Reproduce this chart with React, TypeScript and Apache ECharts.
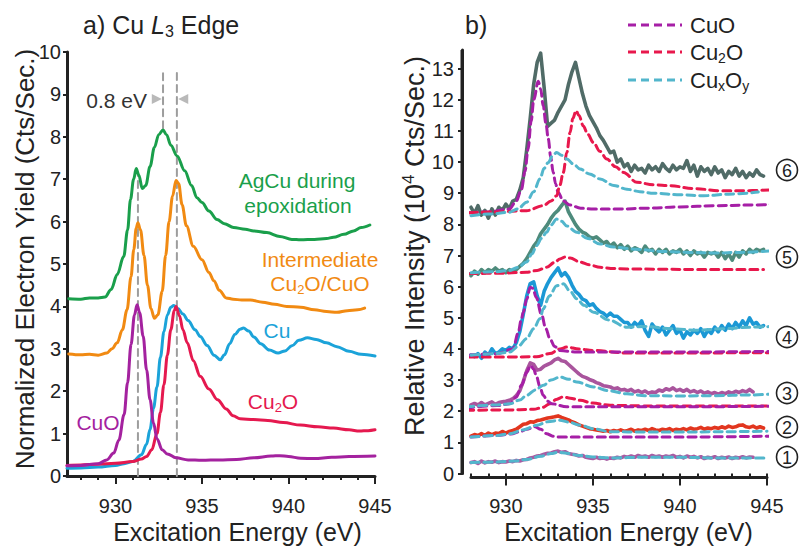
import React, { useEffect, useRef } from "react";
import * as echarts from "echarts";

const F = "'Liberation Sans', Arial, Helvetica, sans-serif";

// ---------- Panel a: Cu L3 edge reference spectra ----------
const A_CUO = [[927.2,0.24],[928,0.25],[929,0.29],[929.5,0.38],[929.9,0.54],[930.2,0.85],[930.5,1.45],[930.7,2.2],[930.9,3.1],[931.1,3.8],[931.25,4.04],[931.4,3.85],[931.6,3.3],[931.8,2.5],[932.0,1.8],[932.2,1.25],[932.4,0.88],[932.7,0.62],[933.0,0.52],[933.5,0.43],[934.2,0.38],[935,0.37],[936,0.38],[937,0.39],[938,0.43],[939,0.47],[939.5,0.48],[940,0.46],[940.7,0.42],[941.5,0.41],[942.5,0.44],[943.5,0.46],[945,0.47]];
const A_CU = [[927.2,0.18],[928,0.19],[929,0.21],[930,0.25],[930.5,0.29],[931,0.34],[931.5,0.5],[931.8,0.75],[932.0,1.1],[932.2,1.6],[932.4,2.1],[932.6,2.8],[932.8,3.4],[933.0,3.8],[933.2,3.98],[933.37,4.02],[933.6,3.95],[933.9,3.82],[934.2,3.67],[934.6,3.45],[934.9,3.29],[935.3,3.08],[935.7,2.85],[936.06,2.74],[936.3,2.86],[936.6,3.12],[936.9,3.34],[937.2,3.46],[937.4,3.49],[937.7,3.42],[938.0,3.28],[938.4,3.12],[938.9,2.97],[939.4,2.9],[939.8,2.95],[940.2,3.07],[940.6,3.2],[941.1,3.26],[941.6,3.22],[942.2,3.14],[942.8,3.05],[943.5,2.94],[944.2,2.87],[945,2.83]];
const A_CU2O = [[927.2,0.25],[928,0.26],[929,0.28],[930,0.3],[931,0.34],[931.5,0.4],[931.8,0.46],[932.1,0.62],[932.4,1.0],[932.6,1.5],[932.8,2.15],[933.0,2.85],[933.2,3.45],[933.4,3.9],[933.5,4.0],[933.7,3.78],[933.9,3.45],[934.15,3.14],[934.5,2.72],[934.9,2.35],[935.4,2.05],[935.9,1.8],[936.4,1.58],[936.8,1.42],[937.2,1.35],[938,1.33],[938.8,1.31],[939.7,1.26],[940.7,1.2],[941.7,1.16],[942.6,1.13],[943.5,1.09],[944.1,1.06],[944.6,1.07],[945,1.09]];
const A_MIX = [[927.3,2.88],[928,2.86],[928.5,2.87],[929,2.85],[929.5,2.9],[929.8,3.0],[930.1,3.14],[930.4,3.45],[930.67,3.92],[930.9,4.7],[931.06,5.34],[931.2,5.85],[931.3,5.97],[931.45,5.8],[931.65,5.2],[931.85,4.5],[932.05,3.95],[932.25,3.72],[932.45,3.8],[932.7,4.35],[932.9,5.2],[933.1,6.0],[933.3,6.6],[933.5,6.97],[933.65,6.9],[933.85,6.4],[934.1,5.9],[934.5,5.42],[935.0,5.1],[935.4,4.8],[935.7,4.6],[936.0,4.38],[936.4,4.2],[936.8,4.17],[937.3,4.15],[937.8,4.15],[938.5,4.1],[939.2,4.05],[939.9,4.0],[940.7,3.98],[941.5,3.92],[942.2,3.88],[942.8,3.86],[943.4,3.9],[944.0,3.92],[944.4,3.96]];
const A_AGCU = [[927.3,4.18],[928,4.17],[928.5,4.2],[929,4.2],[929.4,4.22],[929.75,4.4],[930.1,4.75],[930.48,5.18],[930.7,5.8],[930.87,6.52],[931.05,7.0],[931.2,7.25],[931.35,7.1],[931.55,6.78],[931.75,6.85],[932.0,7.3],[932.25,7.75],[932.5,8.05],[932.75,8.16],[932.95,8.05],[933.2,7.8],[933.56,7.55],[934.0,7.2],[934.4,6.85],[934.71,6.56],[935.0,6.45],[935.4,6.25],[935.87,6.05],[936.3,5.95],[936.83,5.86],[937.5,5.82],[938.0,5.78],[938.75,5.74],[939.5,5.65],[940.2,5.58],[940.7,5.57],[941.5,5.58],[942.2,5.6],[942.6,5.63],[943.2,5.7],[943.76,5.78],[944.2,5.86],[944.7,5.92]];
// gray guide lines (energy, from, to) and arrow marks (energy, level, rotation)
const GUIDES = [[931.3, 0, 7.1], [932.75, 8.2, 9.6], [933.55, 0, 9.6]];
const ARROWS = [[932.39, 8.89, -90], [933.92, 8.89, 90]];
const A_X_LABELS = [930, 935, 940, 945];
const A_X_MINOR = [928,929,930,931,932,933,934,935,936,937,938,939,940,941,942,943,944,945];
const A_Y_TICKS = [0,1,2,3,4,5,6,7,8,9,10];

// ---------- Panel b: measured spectra (1-6) and fits ----------
const E_B = [928.0,928.2,928.4,928.6,928.8,929.0,929.2,929.4,929.6,929.8,930.0,930.2,930.4,930.6,930.8,931.0,931.2,931.4,931.6,931.8,932.0,932.2,932.4,932.6,932.8,933.0,933.2,933.4,933.6,933.8,934.0,934.2,934.4,934.6,934.8,935.0,935.2,935.4,935.6,935.8,936.0,936.2,936.4,936.6,936.8,937.0,937.2,937.4,937.6,937.8,938.0,938.2,938.4,938.6,938.8,939.0,939.2,939.4,939.6,939.8,940.0,940.2,940.4,940.6,940.8,941.0,941.2,941.4,941.6,941.8,942.0,942.2,942.4,942.6,942.8,943.0,943.2,943.4,943.6,943.8,944.0,944.2,944.4,944.6,944.8];
const T6 = [8.55,8.35,8.6,8.3,8.45,8.2,8.5,8.3,8.55,8.45,8.65,8.5,8.75,8.8,9.1,9.5,10.4,11.4,12.5,13.2,13.5,12.4,11.15,11.25,11.35,11.6,11.8,12.0,12.5,12.9,13.2,12.7,12.2,11.8,11.5,11.3,11.1,10.85,10.7,10.5,10.3,10.35,10.0,10.1,9.85,9.95,9.7,9.9,9.75,9.8,9.65,9.9,9.75,9.85,9.7,9.95,9.8,9.7,9.9,9.75,9.85,9.8,10.05,9.7,9.9,9.55,9.85,9.7,9.8,9.6,9.85,9.65,9.75,9.5,9.7,9.6,9.8,9.55,9.7,9.5,9.65,9.55,9.75,9.6,9.55];
const T5 = [6.35,6.5,6.4,6.55,6.45,6.55,6.5,6.6,6.5,6.55,6.45,6.55,6.5,6.55,6.65,6.75,6.9,7.1,7.3,7.45,7.7,7.85,8.0,8.2,8.35,8.45,8.6,8.75,8.4,8.2,8.0,7.85,7.75,7.7,7.6,7.55,7.6,7.5,7.4,7.45,7.3,7.4,7.25,7.35,7.2,7.3,7.15,7.25,7.2,7.1,7.3,7.15,7.2,7.05,7.2,7.1,7.2,7.05,7.15,7.1,7.2,7.05,7.15,7.0,7.15,7.05,7.1,6.95,7.1,7.05,7.1,6.95,7.1,6.9,7.05,6.85,7.1,6.95,7.15,7.05,7.2,7.1,7.2,7.15,7.2];
const T4 = [3.8,3.75,3.85,3.7,3.9,3.8,4.0,3.85,3.9,4.0,3.95,4.05,4.0,4.2,4.55,5.1,5.7,6.1,6.15,5.7,5.4,5.85,6.1,6.3,6.45,6.6,6.35,6.45,6.3,6.05,5.85,5.75,5.6,5.55,5.4,5.45,5.3,5.2,5.15,5.05,5.15,5.05,5.05,4.95,4.85,4.85,4.7,4.85,4.75,4.9,4.6,4.4,4.8,4.65,4.55,4.7,4.45,4.6,4.75,4.5,4.6,4.35,4.55,4.45,4.6,4.5,4.65,4.4,4.6,4.5,4.7,4.55,4.75,4.6,4.8,4.65,4.85,4.7,4.9,4.75,5.0,4.8,4.85,4.7,4.75];
const T3 = [2.2,2.25,2.2,2.28,2.2,2.25,2.3,2.22,2.28,2.3,2.32,2.35,2.4,2.5,2.65,2.95,3.3,3.55,3.5,3.32,3.35,3.45,3.5,3.55,3.65,3.7,3.62,3.6,3.5,3.4,3.3,3.2,3.12,3.08,3.02,2.98,2.92,2.88,2.82,2.8,2.78,2.72,2.75,2.68,2.7,2.65,2.7,2.62,2.66,2.6,2.65,2.58,2.62,2.6,2.68,2.64,2.72,2.68,2.75,2.66,2.7,2.64,2.7,2.62,2.66,2.6,2.65,2.58,2.62,2.56,2.6,2.55,2.6,2.56,2.62,2.58,2.64,2.6,2.66,2.62,2.7,2.62,null,null,null];
const T2 = [1.2,1.25,1.22,1.28,1.22,1.3,1.25,1.3,1.28,1.35,1.3,1.35,1.38,1.42,1.5,1.58,1.6,1.66,1.65,1.7,1.72,1.75,1.78,1.8,1.82,1.85,1.8,1.76,1.72,1.66,1.62,1.56,1.52,1.48,1.44,1.42,1.4,1.38,1.36,1.38,1.34,1.38,1.36,1.4,1.36,1.38,1.42,1.36,1.4,1.38,1.42,1.38,1.44,1.4,1.38,1.42,1.4,1.44,1.38,1.42,1.4,1.44,1.4,1.46,1.42,1.44,1.48,1.42,1.46,1.44,1.48,1.45,1.5,1.46,1.52,1.48,1.5,1.55,1.56,1.5,1.48,1.52,1.46,1.5,1.46];
const T1 = [0.35,0.38,0.32,0.4,0.34,0.38,0.36,0.4,0.35,0.38,0.37,0.4,0.38,0.42,0.4,0.44,0.45,0.5,0.52,0.56,0.58,0.62,0.65,0.66,0.7,0.72,0.68,0.7,0.64,0.62,0.6,0.56,0.58,0.52,0.5,0.48,0.52,0.48,0.5,0.46,0.5,0.48,0.52,0.5,0.55,0.52,0.56,0.52,0.58,0.54,0.56,0.52,0.58,0.54,0.56,0.52,0.56,0.54,0.58,0.52,0.55,0.5,0.56,0.52,0.55,0.5,0.54,0.48,0.52,0.5,0.54,0.48,0.52,0.5,0.53,0.48,0.52,0.5,0.54,0.5,0.53,0.52,null,null,null];

const F6_CUO = [[927.9,8.37],[929,8.4],[930.2,8.49],[930.6,8.75],[930.9,9.13],[931.1,9.7],[931.28,10.42],[931.45,11.3],[931.61,12.02],[931.86,12.6],[932.0,12.35],[932.15,11.8],[932.3,11.25],[932.44,10.74],[932.58,10.15],[932.72,9.67],[932.86,9.3],[933.0,9.03],[933.3,8.75],[933.69,8.62],[934.3,8.52],[935.03,8.49],[936.5,8.49],[938,8.52],[940,8.56],[942,8.6],[944,8.62],[945.2,8.64]];
const F6_CU2O = [[927.9,8.37],[929.5,8.4],[931.19,8.44],[932.15,8.6],[932.6,8.75],[932.92,8.92],[933.1,9.25],[933.3,9.67],[933.5,10.3],[933.69,10.95],[933.85,11.4],[934.03,11.65],[934.2,11.5],[934.45,11.16],[934.7,10.9],[935.03,10.63],[935.4,10.35],[935.8,10.1],[936.3,9.85],[936.76,9.67],[937.53,9.35],[938.5,9.27],[939.45,9.24],[940.8,9.15],[942.33,9.08],[943.5,9.08],[945.2,9.11]];
const F6_CUXOY = [[928.0,8.28],[929,8.33],[930.2,8.39],[930.7,8.5],[931.19,8.71],[931.6,9.05],[931.96,9.46],[932.2,9.8],[932.44,9.99],[932.7,10.22],[932.92,10.31],[933.2,10.22],[933.5,10.1],[933.9,9.93],[934.26,9.78],[934.8,9.62],[935.41,9.46],[936.2,9.25],[936.95,9.13],[937.7,9.05],[938.49,9.0],[940,8.95],[941.37,8.92],[942.8,8.97],[944.5,9.04]];
const F5_CUXOY = [[928,6.45],[929.5,6.48],[930.2,6.52],[930.7,6.62],[931.19,6.79],[931.5,7.05],[931.77,7.32],[932.05,7.55],[932.34,7.75],[932.6,7.98],[932.92,8.17],[933.2,8.1],[933.5,7.95],[934.07,7.75],[934.7,7.55],[935.41,7.37],[936.2,7.27],[937.5,7.2],[939,7.13],[940.5,7.1],[942,7.08],[943.5,7.1],[945.2,7.15]];
const F5_CU2O = [[927.9,6.42],[929.5,6.43],[931.19,6.46],[931.8,6.52],[932.34,6.62],[932.8,6.78],[933.11,6.89],[933.4,6.95],[933.7,6.92],[934.26,6.79],[934.8,6.7],[935.41,6.62],[936.2,6.58],[936.95,6.57],[939,6.56],[941,6.55],[944.8,6.55]];
const F4_CUO = [[927.9,3.8],[929.5,3.85],[930.42,4.0],[930.7,4.5],[930.9,4.97],[931.0,5.18],[931.2,5.6],[931.4,5.98],[931.55,5.95],[931.75,5.65],[932.05,5.1],[932.3,4.65],[932.53,4.33],[932.8,4.08],[933.11,3.95],[934.07,3.9],[936,3.9],[940,3.9],[945.2,3.92]];
const F4_CU2O = [[927.9,3.74],[930,3.74],[931.77,3.75],[932.53,3.85],[933.11,4.0],[933.5,4.06],[934.2,4.0],[935.03,3.95],[936.95,3.87],[940,3.87],[945.2,3.88]];
const F4_CUXOY = [[928,3.8],[929.5,3.85],[930.23,3.9],[930.7,4.08],[931.19,4.33],[931.6,4.65],[931.96,4.97],[932.15,5.29],[932.5,5.7],[932.92,6.03],[933.3,6.09],[933.7,5.85],[934.07,5.61],[934.5,5.4],[935.03,5.18],[935.9,4.93],[936.95,4.7],[938,4.72],[939.5,4.65],[941,4.6],[942.5,4.65],[944,4.7],[945.2,4.72]];
const F3_CUO = [[927.7,2.1],[929.5,2.18],[930.23,2.24],[930.6,2.45],[930.9,2.83],[931.2,3.25],[931.42,3.47],[931.6,3.35],[931.77,3.1],[931.95,2.8],[932.15,2.51],[932.4,2.32],[932.63,2.24],[933.5,2.14],[936,2.14],[940,2.14],[945.2,2.16]];
const F3_CU2O = [[927.7,2.03],[930,2.04],[931.6,2.06],[932.1,2.12],[932.53,2.24],[932.9,2.38],[933.3,2.46],[933.7,2.42],[934.26,2.35],[935,2.26],[936,2.19],[938,2.17],[945,2.17]];
const F3_CUXOY = [[927.7,2.14],[929.5,2.2],[930.23,2.24],[930.8,2.36],[931.19,2.51],[931.7,2.68],[932.15,2.83],[932.6,3.0],[933.11,3.1],[933.6,3.03],[934.07,2.94],[935.03,2.78],[935.9,2.66],[936.95,2.56],[938,2.5],[940,2.49],[942,2.5],[944,2.52],[945.2,2.55]];
const F2_CUO = [[928,1.17],[929.5,1.22],[930.3,1.27],[930.8,1.34],[931.2,1.42],[931.67,1.5],[932.0,1.42],[932.34,1.28],[932.7,1.2],[933.11,1.17],[935,1.17],[940,1.17],[945.3,1.2]];
const F2_CUXOY = [[928,1.17],[929.5,1.22],[930.23,1.28],[931.0,1.4],[931.77,1.55],[932.4,1.66],[933.11,1.71],[933.6,1.65],[934.26,1.55],[935.1,1.43],[936,1.34],[938,1.33],[940,1.33],[942,1.34],[945,1.36]];
const F1_CUXOY = [[928,0.35],[929.5,0.37],[930.5,0.4],[931.2,0.45],[932,0.55],[932.6,0.64],[933.0,0.68],[933.5,0.65],[934.2,0.58],[935,0.53],[936,0.5],[938,0.52],[940,0.52],[942,0.5],[944,0.5],[945,0.5]];
const B_X_LABELS = [930, 935, 940, 945];
const B_X_MINOR = [928,929,930,931,932,933,934,935,936,937,938,939,940,941,942,943,944,945];
const B_Y_TICKS = [0,1,2,3,4,5,6,7,8,9,10,11,12,13];
const SAMPLE_IDS = ["1", "2", "3", "4", "5", "6"];

const C = {
  green: "#1a9f4b", orange: "#f18a12", blue: "#1ba3d9", red: "#e5194f", purple: "#a4229f",
  t6: "#506b67", t5: "#4e8b7c", t4: "#1b98d5", t3: "#a9559d", t2: "#e2361f", t1: "#a85ca3",
  fCuO: "#a61fa6", fCu2O: "#e8184c", fCuxOy: "#52b6cc", guide: "#9d9d9d", ink: "#222222",
};

function richFor(size: number, color: string) {
  const lh = size + 4;
  return {
    n: { fontSize: size, fontFamily: F, fill: color, lineHeight: lh },
    i: { fontSize: size, fontFamily: F, fontStyle: "italic", fill: color, lineHeight: lh },
    s: { fontSize: Math.round(size * 0.62), fontFamily: F, fill: color, lineHeight: Math.max(4, lh - 0.64 * size), verticalAlign: "bottom" },
    p: { fontSize: Math.round(size * 0.62), fontFamily: F, fill: color, lineHeight: Math.max(4, lh - 0.72 * size), verticalAlign: "top" },
  };
}

function label(x: number, y: number, text: string, size: number, color: string, align = "center", rotation = 0) {
  return {
    type: "text", x, y, rotation, z: 50,
    style: {
      text, fill: color, fontSize: size, fontFamily: F,
      align, textAlign: align, verticalAlign: "middle", textVerticalAlign: "middle",
      rich: richFor(size, color),
    },
  };
}

function line(data: any[], color: string, width: number, xi: number, yi: number, opts: any = {}) {
  return {
    type: "line", data, xAxisIndex: xi, yAxisIndex: yi, symbol: "none", silent: true,
    lineStyle: { color, width, type: opts.dash || "solid", cap: "round", join: "round" },
    smooth: opts.smooth ?? false, smoothMonotone: opts.smooth ? "x" : undefined,
    connectNulls: false, z: opts.z ?? 2,
  };
}

export default function App() {
  const ref = useRef<HTMLDivElement>(null);
  useEffect(() => {
    if (!ref.current) return;
    const chart = echarts.init(ref.current, undefined, { renderer: "svg" });
    const tickStyle = () => ({ color: C.ink, width: 2 });
    const axisLine = () => ({ show: true, onZero: false, lineStyle: { color: C.ink, width: 3 } });
    const lbl = () => ({ fontSize: 20, color: C.ink, fontFamily: F });
    const xMain = (grid: number, min: number, offset: number) => ({
      type: "value", gridIndex: grid, min, max: 945, offset, position: "bottom",
      axisLine: axisLine(), splitLine: { show: false },
      axisTick: { show: true, customValues: grid === 0 ? A_X_LABELS : B_X_LABELS, length: 8, lineStyle: tickStyle() },
      axisLabel: { ...lbl(), customValues: grid === 0 ? A_X_LABELS : B_X_LABELS, margin: grid === 0 ? 20 : 18.5 },
    });
    const xMinor = (grid: number, min: number, offset: number) => ({
      type: "value", gridIndex: grid, min, max: 945, offset, position: "bottom",
      axisLine: { show: false }, splitLine: { show: false }, axisLabel: { show: false },
      axisTick: { show: true, customValues: grid === 0 ? A_X_MINOR : B_X_MINOR, length: 4, lineStyle: tickStyle() },
    });
    const fit = (d: any[], color: string) => line(d, color, 3, 2, 1, { dash: [8, 5], smooth: 0.35, z: 4 });
    const trace = (vals: (number | null)[], color: string) => line(E_B.map((e, i) => [e, vals[i]]), color, 3.6, 2, 1, { z: 3 });

    const graphic: any[] = [
      label(83, 25, "{n|a) Cu }{i|L}{s|3}{n| Edge}", 25, C.ink, "left"),
      label(465, 25, "{n|b)}", 25, C.ink, "left"),
      label(25, 259, "{n|Normalized Electron Yield (Cts/Sec.)}", 26, C.ink, "center", Math.PI / 2),
      label(237.5, 532, "{n|Excitation Energy (eV)}", 25, C.ink),
      label(415, 246, "{n|Relative Intensity (10}{p|4}{n| Cts/Sec.)}", 27, C.ink, "center", Math.PI / 2),
      label(628.5, 532, "{n|Excitation Energy (eV)}", 25, C.ink),
      label(147, 100, "{n|0.8 eV}", 21, "#333333", "right"),
      label(297, 180, "{n|AgCu during}", 21, C.green),
      label(298, 205, "{n|epoxidation}", 21, C.green),
      label(320, 259, "{n|Intermediate}", 21, C.orange),
      label(320, 283, "{n|Cu}{s|2}{n|O/CuO}", 21, C.orange),
      label(277, 330, "{n|Cu}", 21, C.blue),
      label(273, 401, "{n|Cu}{s|2}{n|O}", 21, C.red),
      label(98, 422, "{n|CuO}", 21, C.purple),
      // panel b vertical axis line
      { type: "line", shape: { x1: 462, y1: 50, x2: 462, y2: 474.5 }, style: { stroke: C.ink, lineWidth: 3 }, z: 40 },
    ];
    const legend = [
      { color: C.fCuO, text: "{n|CuO}", y: 25 },
      { color: C.fCu2O, text: "{n|Cu}{s|2}{n|O}", y: 52 },
      { color: C.fCuxOy, text: "{n|Cu}{s|x}{n|O}{s|y}", y: 80 },
    ];
    legend.forEach((l) => {
      graphic.push({ type: "line", shape: { x1: 628, y1: l.y, x2: 682, y2: l.y }, style: { stroke: l.color, lineWidth: 3, lineDash: [8, 5] }, z: 50 });
      graphic.push(label(690, l.y, l.text, 22, C.ink, "left"));
    });
    const circleY = [457, 427, 393, 337, 257, 170];
    SAMPLE_IDS.forEach((id, i) => {
      graphic.push({ type: "circle", shape: { cx: 787, cy: circleY[i], r: 10.5 }, style: { fill: "none", stroke: C.ink, lineWidth: 1.6 }, z: 50 });
      graphic.push(label(787, circleY[i] + 0.5, `{n|${id}}`, 18, C.ink));
    });

    const option: any = {
      animation: false,
      grid: [
        { left: 67, top: 52, width: 308, height: 424 },
        { left: 471, top: 50, width: 296, height: 423.5 },
      ],
      xAxis: [xMain(0, 927.2, 0), xMinor(0, 927.2, 0), xMain(1, 928, 4), xMinor(1, 928, 4)],
      yAxis: [
        { type: "value", gridIndex: 0, min: 0, max: 10, axisLine: axisLine(), splitLine: { show: false },
          axisTick: { show: true, customValues: A_Y_TICKS, length: 4, lineStyle: tickStyle() },
          axisLabel: { ...lbl(), customValues: A_Y_TICKS, margin: 6 } },
        { type: "value", gridIndex: 1, min: 0, max: 13.6, offset: 9, axisLine: axisLine(), splitLine: { show: false },
          axisTick: { show: true, customValues: B_Y_TICKS, length: 4, lineStyle: tickStyle() },
          axisLabel: { ...lbl(), customValues: B_Y_TICKS, margin: 8 } },
      ],
      graphic,
      series: [
        ...GUIDES.map((g) => line([[g[0], g[1]], [g[0], g[2]]], C.guide, 2, 0, 0, { dash: [7, 5], z: 1 })),
        {
          type: "scatter", xAxisIndex: 0, yAxisIndex: 0, silent: true, z: 5,
          data: ARROWS.map((a) => ({ value: [a[0], a[1]], symbolRotate: a[2] })),
          symbol: "triangle", symbolSize: [10, 10], itemStyle: { color: "#a8a8a8" },
        },
        line(A_AGCU, C.green, 3, 0, 0, { smooth: 0.35 }),
        line(A_MIX, C.orange, 3, 0, 0, { smooth: 0.35 }),
        line(A_CU, C.blue, 3, 0, 0, { smooth: 0.35 }),
        line(A_CU2O, C.red, 3, 0, 0, { smooth: 0.35 }),
        line(A_CUO, C.purple, 3, 0, 0, { smooth: 0.35 }),
        trace(T6, C.t6), trace(T5, C.t5), trace(T4, C.t4), trace(T3, C.t3), trace(T2, C.t2), trace(T1, C.t1),
        fit(F6_CUO, C.fCuO), fit(F6_CU2O, C.fCu2O), fit(F6_CUXOY, C.fCuxOy),
        fit(F5_CU2O, C.fCu2O), fit(F5_CUXOY, C.fCuxOy),
        fit(F4_CU2O, C.fCu2O), fit(F4_CUO, C.fCuO), fit(F4_CUXOY, C.fCuxOy),
        fit(F3_CU2O, C.fCu2O), fit(F3_CUO, C.fCuO), fit(F3_CUXOY, C.fCuxOy),
        fit(F2_CUO, C.fCuO), fit(F2_CUXOY, C.fCuxOy),
        fit(F1_CUXOY, C.fCuxOy),
      ],
    };
    chart.setOption(option);
    return () => chart.dispose();
  }, []);
  return <div ref={ref} style={{ width: 800, height: 546, position: "absolute", left: 0, top: 0, background: "#ffffff" }} />;
}
